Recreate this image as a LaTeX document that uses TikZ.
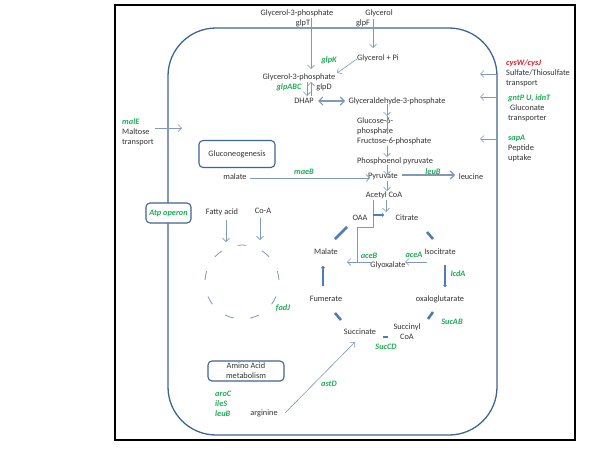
\documentclass[tikz,border=0pt]{standalone}
\usepackage{fontspec}
\setmainfont{Carlito}
\usetikzlibrary{arrows.meta}
\definecolor{cellblue}{HTML}{3F6593}
\definecolor{tcablue}{HTML}{4F7CB8}
\definecolor{thinblue}{HTML}{8098BC}
\definecolor{gtxt}{HTML}{1FAE55}
\definecolor{rtxt}{HTML}{E11B22}
\begin{document}
\begin{tikzpicture}[x=1pt,y=-1pt,
  every node/.style={inner sep=1pt, font=\fontsize{8.3}{10}\selectfont, text=black!80},
  gene/.style={font=\fontsize{8.3}{10}\selectfont\bfseries\itshape, text=gtxt},
  boxed/.style={draw=cellblue, line width=1.1pt, rounded corners=4pt, fill=white, align=center},
  thinarrow/.style={draw=thinblue, line width=0.6pt, -{Straight Barb[length=3.5pt,width=7pt]}},
  thinline/.style={draw=thinblue, line width=0.6pt},
  dashline/.style={draw=thinblue, line width=0.8pt},
  bigarrow/.style={draw=thinblue, line width=1.1pt, {Straight Barb[length=4pt,width=8pt]}-{Straight Barb[length=4pt,width=8pt]}},
  tca/.style={draw=tcablue, line width=2.6pt},
  tcaarrow/.style={draw=tcablue, line width=2.6pt, -{Triangle[length=2pt,width=4pt]}}
]
\useasboundingbox (0,0) rectangle (600,450);
\fill[white] (0,0) rectangle (600,450);
\draw[line width=2pt, black] (115,5) rectangle (575,440);
\draw[cellblue, line width=1.3pt, rounded corners=48pt] (168,28) rectangle (497,435);

% ---- text nodes ----
\node (g3pOut) at (297,13) {Glycerol-3-phosphate};
\node (glpT) at (303,23) {glpT};
\node (glyOut) at (379,13) {Glycerol};
\node (glpF) at (363,23) {glpF};
\node (glyPi) at (378,58) {Glycerol + Pi};
\node[gene] (glpK) at (329,60) {glpK};
\node (g3pIn) at (299,77) {Glycerol-3-phosphate};
\node[gene] (glpABC) at (289,87) {glpABC};
\node (glpD) at (324,87) {glpD};
\node (dhap) at (304,101) {DHAP};
\node (gap) at (397,101) {Glyceraldehyde-3-phosphate};
\node[align=left, anchor=west] (g6p) at (356,131) {Glucose-6-\\phosphate\\Fructose-6-phosphate};
\node[anchor=west] (pep) at (356,161) {Phosphoenol pyruvate};
\node (pyr) at (383,177) {Pyruvate};
\node (malate) at (235,177) {malate};
\node[gene] (maeB) at (304,172) {maeB};
\node[gene] (leuBa) at (433,172) {leuB};
\node (leucine) at (471,177) {leucine};
\node (acoa) at (384,195) {Acetyl CoA};
\node (oaa) at (360,218) {OAA};
\node (citrate) at (407,218) {Citrate};
\node (malate2) at (326,252) {Malate};
\node (isocit) at (440,252) {Isocitrate};
\node[gene] (aceB) at (369,256) {aceB};
\node (glyox) at (388,265) {Glyoxalate};
\node[gene] (aceA) at (414,255) {aceA};
\node[gene] (icdA) at (458,274) {IcdA};
\node (fum) at (326,299) {Fumerate};
\node (oxg) at (440,299) {oxaloglutarate};
\node[gene] (sucAB) at (452,322) {SucAB};
\node (succ) at (360,332) {Succinate};
\node[align=center] (succoa) at (407,332) {Succinyl\\CoA};
\node[gene] (sucCD) at (386,347) {SucCD};
\node[gene] (fadJ) at (283,308) {fadJ};
\node (fatty) at (222,212) {Fatty acid};
\node (coa) at (263,211) {Co-A};
\node[boxed, minimum width=76pt, minimum height=27pt] (gluco) at (237,154) {Gluconeogenesis};
\node[boxed, minimum width=45pt, minimum height=20pt, gene] (atp) at (168.5,213) {Atp operon};
\node[boxed, minimum width=76pt, minimum height=20pt, inner sep=0.5pt] (amino) at (246,371) {Amino Acid\\metabolism};
\node[gene, align=left, anchor=west] (aroC) at (214,404) {aroC\\ileS\\leuB};
\node (arginine) at (264,413) {arginine};
\node[gene] (astD) at (329,384) {astD};
\node[align=left, anchor=west] (malE) at (121,132) {\textcolor{gtxt}{\bfseries\itshape malE}\\Maltose\\transport};
\node[align=left, anchor=west] (cys) at (505,73) {\textcolor{rtxt}{\bfseries\itshape cysW/cysJ}\\Sulfate/Thiosulfate\\transport};
\node[align=left, anchor=west] (gnt) at (507,108) {\textcolor{gtxt}{\bfseries\itshape gntP U, idnT}\\\hspace*{2pt}Gluconate\\transporter};
\node[align=left, anchor=west] (sap) at (507,148) {\textcolor{gtxt}{\bfseries\itshape sapA}\\Peptide\\uptake};

% ---- coordinates ----
\coordinate (a1s) at (311,18); \coordinate (a1e) at (311,69);
\coordinate (a2s) at (373,19); \coordinate (a2e) at (373,48);
\coordinate (a3s) at (357,59); \coordinate (a3e) at (337,73);
\coordinate (a4s) at (307,82); \coordinate (a4e) at (307,96);
\coordinate (a5s) at (311,96); \coordinate (a5e) at (311,82);
\coordinate (a6s) at (318,101); \coordinate (a6e) at (345,101);
\coordinate (a7s) at (387,104); \coordinate (a7e) at (387,116); \coordinate (a7f) at (387,134);
\coordinate (a8s) at (387,146); \coordinate (a8e) at (387,157);
\coordinate (a9s) at (387,165); \coordinate (a9e) at (387,175);
\coordinate (a10s) at (250,178); \coordinate (a10e) at (370,178);
\coordinate (a11s) at (402,175); \coordinate (a11e) at (455,175);
\coordinate (a12s) at (387,181); \coordinate (a12e) at (387,191);
\coordinate (a13s) at (386,200); \coordinate (a13e) at (386,212);
\coordinate (b1) at (373,200); \coordinate (b2) at (373,227); \coordinate (b3) at (357,227); \coordinate (b4) at (357,262);
\coordinate (c1s) at (372,262); \coordinate (c1e) at (347,262);
\coordinate (c2s) at (427,262); \coordinate (c2e) at (405,262);
\coordinate (m1s) at (155,128); \coordinate (m1e) at (182,128);
\coordinate (r1s) at (498,74); \coordinate (r1e) at (480,74);
\coordinate (r2s) at (498,97); \coordinate (r2e) at (480,97);
\coordinate (r3s) at (498,139); \coordinate (r3e) at (480,139);
\coordinate (f1s) at (226,220); \coordinate (f1e) at (226,242);
\coordinate (f2s) at (260,218); \coordinate (f2e) at (260,240);
\coordinate (g1s) at (285,413); \coordinate (g1e) at (355,342);
\coordinate (fcen) at (242,282);

% ---- thin connectors ----
\draw[thinarrow] (a1s) -- (a1e);
\draw[thinarrow] (a2s) -- (a2e);
\draw[thinarrow] (a3s) -- (a3e);
\draw[thinarrow] (a4s) -- (a4e);
\draw[thinarrow] (a5s) -- (a5e);
\draw[bigarrow] (a6s) -- (a6e);
\draw[thinarrow] (a7s) -- (a7e);
\draw[thinline] (a7e) -- (a7f);
\draw[thinarrow] (a8s) -- (a8e);
\draw[thinarrow] (a9s) -- (a9e);
\draw[thinarrow] (a10s) -- (a10e);
\draw[draw=thinblue, line width=1.1pt, -{Straight Barb[length=4pt,width=8pt]}] (a11s) -- (a11e);
\draw[thinarrow] (a12s) -- (a12e);
\draw[thinarrow] (a13s) -- (a13e);
\draw[thinline] (b1) -- (b2) -- (b3) -- (b4);
\draw[thinarrow] (c1s) -- (c1e);
\draw[thinarrow] (c2s) -- (c2e);
\draw[thinarrow] (m1s) -- (m1e);
\draw[thinarrow] (r1s) -- (r1e);
\draw[thinarrow] (r2s) -- (r2e);
\draw[thinarrow] (r3s) -- (r3e);
\draw[thinarrow] (f1s) -- (f1e);
\draw[thinarrow] (f2s) -- (f2e);
\draw[thinarrow] (g1s) -- (g1e);

% fatty acid cycle: nine short arcs
\foreach \a in {10,50,90,130,170,210,250,290,330}{
  \draw[dashline] ([shift={(fcen)}] \a-7:37pt) arc[start angle=\a-7, end angle=\a+7, radius=37pt];
}

% ---- TCA thick arrows ----
\coordinate (t1s) at (373,215); \coordinate (t1e) at (384,215);
\coordinate (t2s) at (427,232); \coordinate (t2e) at (433,239);
\coordinate (t3s) at (445,265); \coordinate (t3e) at (445,287);
\coordinate (t4s) at (433,312); \coordinate (t4e) at (428,319);
\coordinate (t5s) at (388,337); \coordinate (t5e) at (383,337);
\coordinate (t6s) at (341,320); \coordinate (t6e) at (335,313);
\coordinate (t7s) at (323,286); \coordinate (t7e) at (323,266);
\coordinate (t8s) at (335,239); \coordinate (t8e) at (347,227);
\draw[tcaarrow] (t1s) -- (t1e);
\draw[tca] (t2s) -- (t2e);
\draw[tcaarrow] (t3s) -- (t3e);
\draw[tca] (t4s) -- (t4e);
\draw[tca] (t5s) -- (t5e);
\draw[tca] (t6s) -- (t6e);
\draw[tcaarrow] (t7s) -- (t7e);
\draw[tca] (t8s) -- (t8e);
\end{tikzpicture}
\end{document}
